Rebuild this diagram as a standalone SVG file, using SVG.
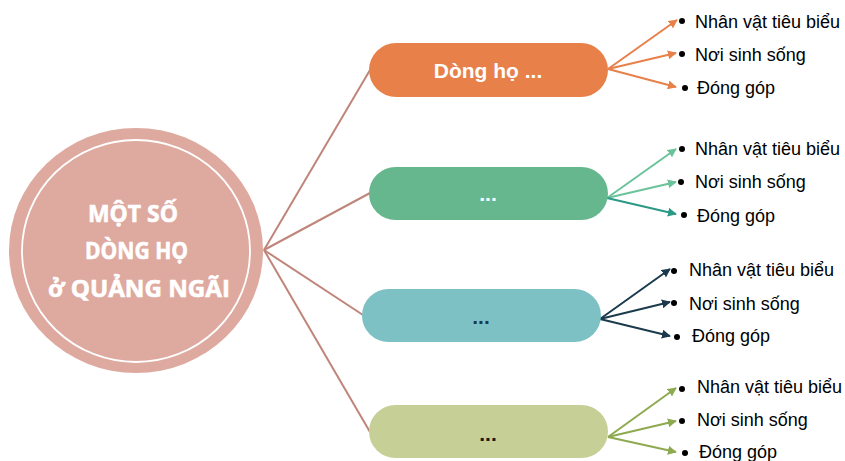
<svg xmlns="http://www.w3.org/2000/svg" width="845" height="461" viewBox="0 0 845 461">
<style>
.item{font-family:"Liberation Sans",Arial,sans-serif;font-size:18px;fill:#000}
.pill{font-family:"Liberation Sans",Arial,sans-serif;font-size:21px;font-weight:bold;fill:#fff;text-anchor:middle}
.title{font-family:"Open Sans",Lato,sans-serif;font-size:22.5px;font-weight:bold;fill:#fff;stroke:#fff;stroke-width:0.6}
.link{stroke:#c0857a;stroke-width:2;fill:none}
.br{stroke-width:2;fill:none}
</style>
<defs>
<marker id="mO" viewBox="0 0 10 10" refX="9" refY="5" markerWidth="4.5" markerHeight="4.5" orient="auto" markerUnits="strokeWidth"><path d="M0,0L10,5L0,10z" fill="#e8804a"/></marker>
<marker id="mG" viewBox="0 0 10 10" refX="9" refY="5" markerWidth="4.5" markerHeight="4.5" orient="auto" markerUnits="strokeWidth"><path d="M0,0L10,5L0,10z" fill="#6cc39b"/></marker>
<marker id="mG2" viewBox="0 0 10 10" refX="9" refY="5" markerWidth="4.5" markerHeight="4.5" orient="auto" markerUnits="strokeWidth"><path d="M0,0L10,5L0,10z" fill="#2b9985"/></marker>
<marker id="mN" viewBox="0 0 10 10" refX="9" refY="5" markerWidth="4.5" markerHeight="4.5" orient="auto" markerUnits="strokeWidth"><path d="M0,0L10,5L0,10z" fill="#1c3a4d"/></marker>
<marker id="mL" viewBox="0 0 10 10" refX="9" refY="5" markerWidth="4.5" markerHeight="4.5" orient="auto" markerUnits="strokeWidth"><path d="M0,0L10,5L0,10z" fill="#8eaa50"/></marker>
</defs>
<rect width="845" height="461" fill="#fff"/>
<g id="connectors">
<line class="link" x1="264" y1="250" x2="370" y2="70"/>
<line class="link" x1="264" y1="250" x2="370" y2="193"/>
<line class="link" x1="264" y1="250" x2="363" y2="315"/>
<line class="link" x1="264" y1="250" x2="370" y2="432"/>
<g stroke="#e8804a">
<line class="br" x1="608" y1="69" x2="677" y2="20" marker-end="url(#mO)"/>
<line class="br" x1="608" y1="69" x2="676" y2="53" marker-end="url(#mO)"/>
<line class="br" x1="608" y1="69" x2="676" y2="87" marker-end="url(#mO)"/>
</g>
<g>
<line class="br" stroke="#6cc39b" x1="607" y1="198" x2="676" y2="149" marker-end="url(#mG)"/>
<line class="br" stroke="#6cc39b" x1="607" y1="198" x2="676" y2="182" marker-end="url(#mG)"/>
<line class="br" stroke="#2b9985" x1="607" y1="198" x2="676" y2="214" marker-end="url(#mG2)"/>
</g>
<g stroke="#1c3a4d">
<line class="br" x1="600" y1="319" x2="670" y2="269" marker-end="url(#mN)"/>
<line class="br" x1="600" y1="319" x2="670" y2="302" marker-end="url(#mN)"/>
<line class="br" x1="600" y1="319" x2="670" y2="336" marker-end="url(#mN)"/>
</g>
<g stroke="#8eaa50">
<line class="br" x1="608" y1="437" x2="676" y2="388" marker-end="url(#mL)"/>
<line class="br" x1="608" y1="437" x2="676" y2="421" marker-end="url(#mL)"/>
<line class="br" x1="608" y1="437" x2="676" y2="452" marker-end="url(#mL)"/>
</g>
</g>
<g id="center">
<ellipse cx="136" cy="250.5" rx="127" ry="122.5" fill="#dea99f"/>
<ellipse cx="136" cy="251" rx="114" ry="111" fill="none" stroke="#fff" stroke-width="1.8"/>
<text class="title" x="88" y="222" textLength="90" lengthAdjust="spacingAndGlyphs">MỘT SỐ</text>
<text class="title" x="85" y="259" textLength="103" lengthAdjust="spacingAndGlyphs">DÒNG HỌ</text>
<text class="title" x="48" y="297" textLength="182" lengthAdjust="spacingAndGlyphs">ở QUẢNG NGÃI</text>
</g>
<g id="n1">
<rect x="369" y="43" width="239" height="54" rx="27" fill="#e8804a"/>
<text class="pill" x="488" y="78">Dòng họ ...</text>
<circle cx="682" cy="21" r="3"/><text class="item" x="695" y="28">Nhân vật tiêu biểu</text>
<circle cx="682" cy="54" r="3"/><text class="item" x="695" y="61">Nơi sinh sống</text>
<circle cx="685" cy="88" r="3"/><text class="item" x="697" y="94">Đóng góp</text>
</g>
<g id="n2">
<rect x="369" y="167" width="239" height="53" rx="26.5" fill="#66b78e"/>
<text class="pill" x="488" y="201">...</text>
<circle cx="682" cy="149" r="3"/><text class="item" x="695" y="155">Nhân vật tiêu biểu</text>
<circle cx="681" cy="182" r="3"/><text class="item" x="695" y="188">Nơi sinh sống</text>
<circle cx="684" cy="215" r="3"/><text class="item" x="697" y="222">Đóng góp</text>
</g>
<g id="n3">
<rect x="362" y="289" width="239" height="53" rx="26.5" fill="#7ec1c5"/>
<text class="pill" x="481" y="324" style="fill:#1c3a4d">...</text>
<circle cx="674" cy="271" r="3"/><text class="item" x="689" y="276">Nhân vật tiêu biểu</text>
<circle cx="674" cy="303" r="3"/><text class="item" x="689" y="310">Nơi sinh sống</text>
<circle cx="677" cy="337" r="3"/><text class="item" x="692" y="342">Đóng góp</text>
</g>
<g id="n4">
<rect x="369" y="405" width="239" height="53" rx="26.5" fill="#c5cf96"/>
<text class="pill" x="488" y="441" style="fill:#1a1a1a">...</text>
<circle cx="682" cy="389" r="3"/><text class="item" x="697" y="393">Nhân vật tiêu biểu</text>
<circle cx="682" cy="421" r="3"/><text class="item" x="697" y="426">Nơi sinh sống</text>
<circle cx="685" cy="453" r="3"/><text class="item" x="699" y="458">Đóng góp</text>
</g>
</svg>
